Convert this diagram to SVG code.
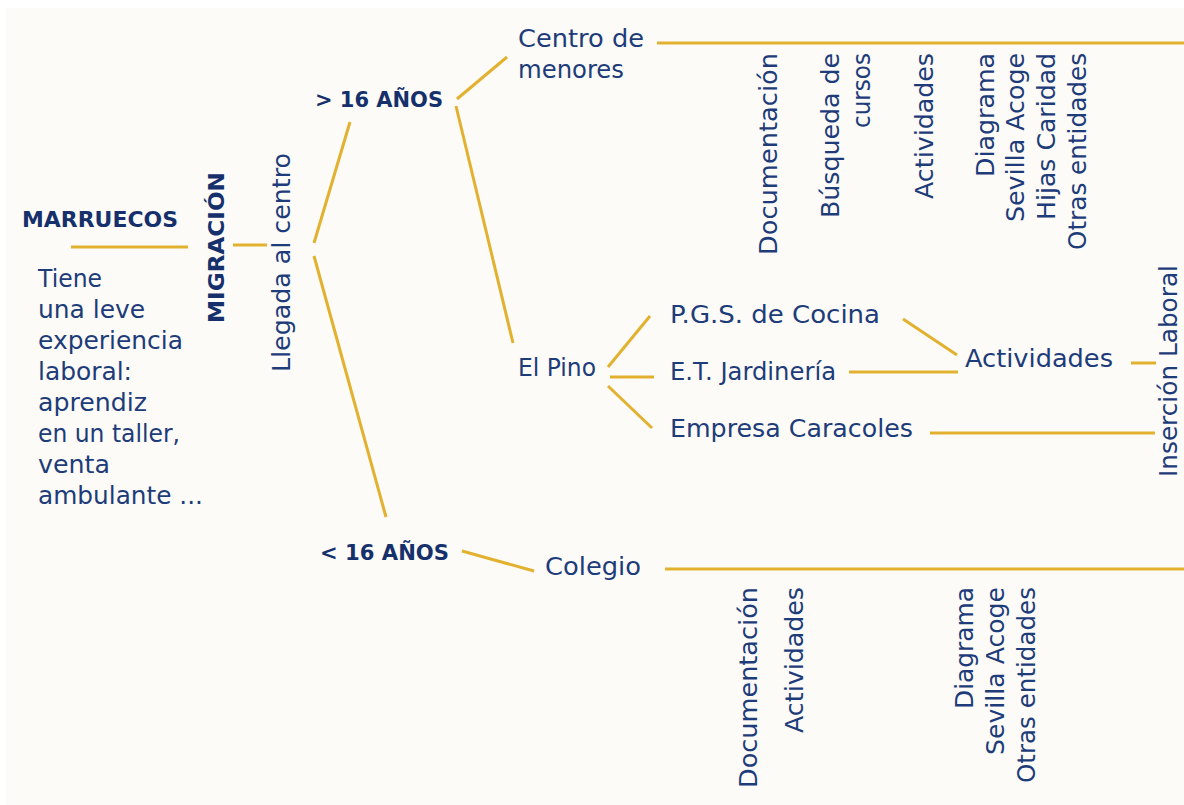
<svg xmlns="http://www.w3.org/2000/svg" width="1184" height="805" viewBox="0 0 1184 805">
<style>
.t{font-family:"DejaVu Sans","Liberation Sans",sans-serif;font-size:25px;fill:#1d3c79}
.b{font-family:"DejaVu Sans","Liberation Sans",sans-serif;font-size:22px;font-weight:bold;fill:#15306b}
.v{text-anchor:end}
.c line{stroke:#e2b12f;stroke-width:3;stroke-linecap:butt}
</style>
<rect x="0" y="0" width="1184" height="805" fill="#ffffff"/>
<rect x="6" y="8" width="1178" height="797" fill="#fcfbf7"/>
<g id="connectors" class="c">
<line x1="71" y1="247" x2="188" y2="247"/>
<line x1="233" y1="245" x2="267" y2="245"/>
<line x1="314" y1="243" x2="350" y2="122"/>
<line x1="314" y1="256" x2="386" y2="517"/>
<line x1="457" y1="99" x2="507" y2="57"/>
<line x1="456" y1="106" x2="513" y2="343"/>
<line x1="657" y1="43" x2="1184" y2="43"/>
<line x1="608" y1="367" x2="650" y2="316"/>
<line x1="610" y1="377" x2="654" y2="377"/>
<line x1="608" y1="386" x2="652" y2="428"/>
<line x1="903" y1="319" x2="957" y2="355"/>
<line x1="849" y1="372" x2="958" y2="372"/>
<line x1="1131" y1="363" x2="1156" y2="363"/>
<line x1="930" y1="433" x2="1155" y2="433"/>
<line x1="462" y1="551" x2="534" y2="571"/>
<line x1="665" y1="569" x2="1184" y2="569"/>
</g>
<g id="marruecos">
<text class="b" x="22" y="227" textLength="156" lengthAdjust="spacingAndGlyphs">MARRUECOS</text>
<text class="t" x="38" y="287" textLength="64" lengthAdjust="spacingAndGlyphs">Tiene</text>
<text class="t" x="38" y="318" textLength="107" lengthAdjust="spacingAndGlyphs">una leve</text>
<text class="t" x="38" y="349" textLength="145" lengthAdjust="spacingAndGlyphs">experiencia</text>
<text class="t" x="38" y="380" textLength="94" lengthAdjust="spacingAndGlyphs">laboral:</text>
<text class="t" x="38" y="411" textLength="109" lengthAdjust="spacingAndGlyphs">aprendiz</text>
<text class="t" x="38" y="442" textLength="142" lengthAdjust="spacingAndGlyphs">en un taller,</text>
<text class="t" x="38" y="473" textLength="72" lengthAdjust="spacingAndGlyphs">venta</text>
<text class="t" x="38" y="504" textLength="165" lengthAdjust="spacingAndGlyphs">ambulante ...</text>
</g>
<g id="migracion">
<text class="b v" transform="translate(224,172) rotate(-90)" textLength="151" lengthAdjust="spacingAndGlyphs">MIGRACIÓN</text>
</g>
<g id="llegada">
<text class="t v" transform="translate(290,153) rotate(-90)" textLength="219" lengthAdjust="spacingAndGlyphs">Llegada al centro</text>
</g>
<g id="mayor16">
<text class="b" x="315" y="107" textLength="128" lengthAdjust="spacingAndGlyphs">&gt; 16 AÑOS</text>
</g>
<g id="menor16">
<text class="b" x="320" y="560" textLength="129" lengthAdjust="spacingAndGlyphs">&lt; 16 AÑOS</text>
</g>
<g id="centro-menores">
<text class="t" x="518" y="47" textLength="126" lengthAdjust="spacingAndGlyphs">Centro de</text>
<text class="t" x="518" y="78" textLength="106" lengthAdjust="spacingAndGlyphs">menores</text>
</g>
<g id="centro-menores-items">
<text class="t v" transform="translate(777,53) rotate(-90)" textLength="202" lengthAdjust="spacingAndGlyphs">Documentación</text>
<text class="t v" transform="translate(839,53) rotate(-90)" textLength="165" lengthAdjust="spacingAndGlyphs">Búsqueda de</text>
<text class="t v" transform="translate(870,53) rotate(-90)" textLength="75" lengthAdjust="spacingAndGlyphs">cursos</text>
<text class="t v" transform="translate(933,53) rotate(-90)" textLength="146" lengthAdjust="spacingAndGlyphs">Actividades</text>
<text class="t v" transform="translate(994,53) rotate(-90)" textLength="124" lengthAdjust="spacingAndGlyphs">Diagrama</text>
<text class="t v" transform="translate(1024,53) rotate(-90)" textLength="169" lengthAdjust="spacingAndGlyphs">Sevilla Acoge</text>
<text class="t v" transform="translate(1055,53) rotate(-90)" textLength="167" lengthAdjust="spacingAndGlyphs">Hijas Caridad</text>
<text class="t v" transform="translate(1086,53) rotate(-90)" textLength="197" lengthAdjust="spacingAndGlyphs">Otras entidades</text>
</g>
<g id="el-pino">
<text class="t" x="518" y="376" textLength="78" lengthAdjust="spacingAndGlyphs">El Pino</text>
</g>
<g id="pgs-cocina">
<text class="t" x="670" y="323" textLength="210" lengthAdjust="spacingAndGlyphs">P.G.S. de Cocina</text>
</g>
<g id="et-jardineria">
<text class="t" x="670" y="380" textLength="166" lengthAdjust="spacingAndGlyphs">E.T. Jardinería</text>
</g>
<g id="empresa-caracoles">
<text class="t" x="670" y="437" textLength="243" lengthAdjust="spacingAndGlyphs">Empresa Caracoles</text>
</g>
<g id="actividades">
<text class="t" x="965" y="367" textLength="148" lengthAdjust="spacingAndGlyphs">Actividades</text>
</g>
<g id="insercion-laboral">
<text class="t" transform="translate(1177,477) rotate(-90)" textLength="212" lengthAdjust="spacingAndGlyphs">Inserción Laboral</text>
</g>
<g id="colegio">
<text class="t" x="545" y="575" textLength="96" lengthAdjust="spacingAndGlyphs">Colegio</text>
</g>
<g id="colegio-items">
<text class="t v" transform="translate(757,587) rotate(-90)" textLength="201" lengthAdjust="spacingAndGlyphs">Documentación</text>
<text class="t v" transform="translate(803,587) rotate(-90)" textLength="146" lengthAdjust="spacingAndGlyphs">Actividades</text>
<text class="t v" transform="translate(973,587) rotate(-90)" textLength="122" lengthAdjust="spacingAndGlyphs">Diagrama</text>
<text class="t v" transform="translate(1004,587) rotate(-90)" textLength="168" lengthAdjust="spacingAndGlyphs">Sevilla Acoge</text>
<text class="t v" transform="translate(1035,587) rotate(-90)" textLength="196" lengthAdjust="spacingAndGlyphs">Otras entidades</text>
</g>
</svg>
